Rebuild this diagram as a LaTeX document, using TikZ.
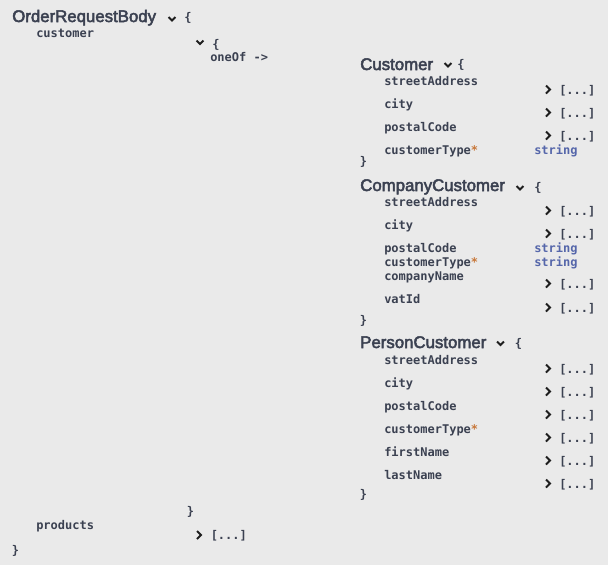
\documentclass[tikz,border=0pt]{standalone}
\usepackage{fontspec}
\setmainfont{Liberation Sans}
\newfontfamily\titlefont{Liberation Sans}[FakeBold=3]
\newfontfamily\codefont{DejaVu Sans Mono}
\definecolor{bgray}{HTML}{EAEAEA}
\definecolor{ink}{HTML}{3B4151}
\definecolor{chevink}{HTML}{1E1E1E}
\definecolor{typeblue}{HTML}{5566AA}
\definecolor{star}{HTML}{C8783A}
\newcommand{\req}[1]{#1\textcolor{star}{*}}

\begin{document}
\begin{tikzpicture}[
    x=0.75pt, y=-0.75pt,
    every node/.style={inner sep=0pt, anchor=base west, text=ink},
    title/.style={font=\titlefont\fontsize{12.6}{15}\selectfont},
    field/.style={font=\codefont\bfseries\fontsize{9}{11}\selectfont},
    proptype/.style={field, text=typeblue},
    chev/.style={draw=chevink, line width=1.5pt},
    down/.pic={\draw[chev] (-3.5,-2) -- (0,1.5) -- (3.5,-2);},
    right/.pic={\draw[chev] (-2,-4) -- (2,0) -- (-2,4);}
]
    \useasboundingbox[fill=bgray] (0,0) rectangle (608,565);

    % OrderRequestBody
    \node[title] (order) at (12,22) {OrderRequestBody};
    \pic at (172,19) {down};
    \node[field] (orderopen) at (184,21.5) {\{};
    \node[field] (customer) at (36,37.5) {customer};
    \pic at (200,42.5) {down};
    \node[field] (oneofopen) at (212,48) {\{};
    \node[field] (oneof) at (210,61) {oneOf ->};

    % Customer
    \node[title] (cust) at (360,70) {Customer};
    \pic at (448,65) {down};
    \node[field] (custopen) at (457,68.5) {\{};
    \node[field] (custstreet) at (384,85) {streetAddress};
    \node[field] (custcity) at (384,108) {city};
    \node[field] (custpostal) at (384,131) {postalCode};
    \node[field] (custtype) at (384,154) {\req{customerType}};
    \node[proptype] (custtypestr) at (534,154) {string};
    \foreach \y [count=\i] in {94,117,140} {
        \pic at (548,\y-4.5) {right};
        \node[field] (custmore\i) at (559,\y) {[...]};
    }
    \node[field] (custclose) at (359.5,165.5) {\}};

    % CompanyCustomer
    \node[title] (comp) at (360,191) {CompanyCustomer};
    \pic at (520,188) {down};
    \node[field] (compopen) at (534,191) {\{};
    \node[field] (compstreet) at (384,206) {streetAddress};
    \node[field] (compcity) at (384,229) {city};
    \node[field] (comppostal) at (384,252) {postalCode};
    \node[field] (comptype) at (384,266) {\req{customerType}};
    \node[field] (compname) at (384,280) {companyName};
    \node[field] (compvat) at (384,303) {vatId};
    \node[proptype] (comppostalstr) at (534,252) {string};
    \node[proptype] (comptypestr) at (534,266) {string};
    \foreach \y [count=\i] in {215,238,288,312} {
        \pic at (548,\y-4.5) {right};
        \node[field] (compmore\i) at (559,\y) {[...]};
    }
    \node[field] (compclose) at (359.5,324) {\}};

    % PersonCustomer
    \node[title] (pers) at (360,348) {PersonCustomer};
    \pic at (500.5,343.5) {down};
    \node[field] (persopen) at (514.5,347.5) {\{};
    \node[field] (persstreet) at (384,364) {streetAddress};
    \node[field] (perscity) at (384,387) {city};
    \node[field] (perspostal) at (384,410) {postalCode};
    \node[field] (perstype) at (384,433) {\req{customerType}};
    \node[field] (persfirst) at (384,456) {firstName};
    \node[field] (perslast) at (384,479) {lastName};
    \foreach \y [count=\i] in {373,396,419,442,465,488} {
        \pic at (548,\y-4.5) {right};
        \node[field] (persmore\i) at (559,\y) {[...]};
    }
    \node[field] (persclose) at (359.5,498) {\}};

    % end of oneOf, products
    \node[field] (oneofclose) at (186.5,515) {\}};
    \node[field] (products) at (36,529.5) {products};
    \pic at (199,535) {right};
    \node[field] (productsmore) at (210.5,539) {[...]};
    \node[field] (orderclose) at (11.5,554.5) {\}};
\end{tikzpicture}
\end{document}
